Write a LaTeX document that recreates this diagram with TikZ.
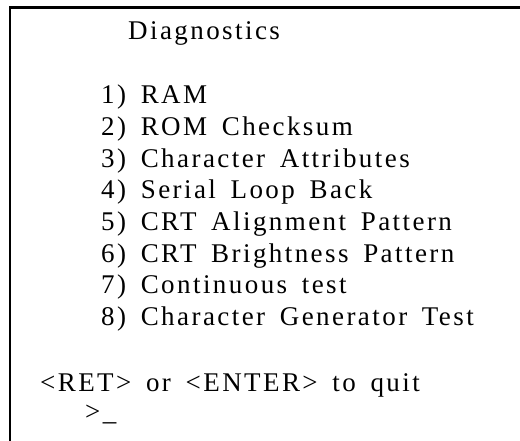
\documentclass[tikz,border=0pt]{standalone}
\usepackage{fontspec}
\setmainfont{Liberation Serif}[LetterSpace=9, WordSpace=1.6]
\begin{document}
\begin{tikzpicture}[x=1pt,y=-1pt,
  txt/.style={anchor=base west, inner sep=0pt, font=\fontsize{27}{30}\selectfont},
  frame/.style={line width=2.5pt}]
\useasboundingbox (0,0) rectangle (520,441);
% open frame: left edge and top edge
\coordinate (fbot) at (10,441);
\coordinate (fcorner) at (10,7.5);
\coordinate (fright) at (520,7.5);
\draw[frame] (fbot) -- (fcorner) -- (fright);
% menu text
\node[txt] (title) at (128,40) {Diagnostics};
\node[txt] (m1) at (101,104) {1) RAM};
\node[txt] (m2) at (101,135.6) {2) ROM Checksum};
\node[txt] (m3) at (101,167.2) {3) Character Attributes};
\node[txt] (m4) at (101,198.8) {4) Serial Loop Back};
\node[txt] (m5) at (101,230.4) {5) CRT Alignment Pattern};
\node[txt] (m6) at (101,262) {6) CRT Brightness Pattern};
\node[txt] (m7) at (101,293.6) {7) Continuous test};
\node[txt] (m8) at (101,325.2) {8) Character Generator Test};
\node[txt] (quit) at (40,391) {<RET> or <ENTER> to quit};
\node[txt] (prompt) at (85,420) {>\_};
\end{tikzpicture}
\end{document}
